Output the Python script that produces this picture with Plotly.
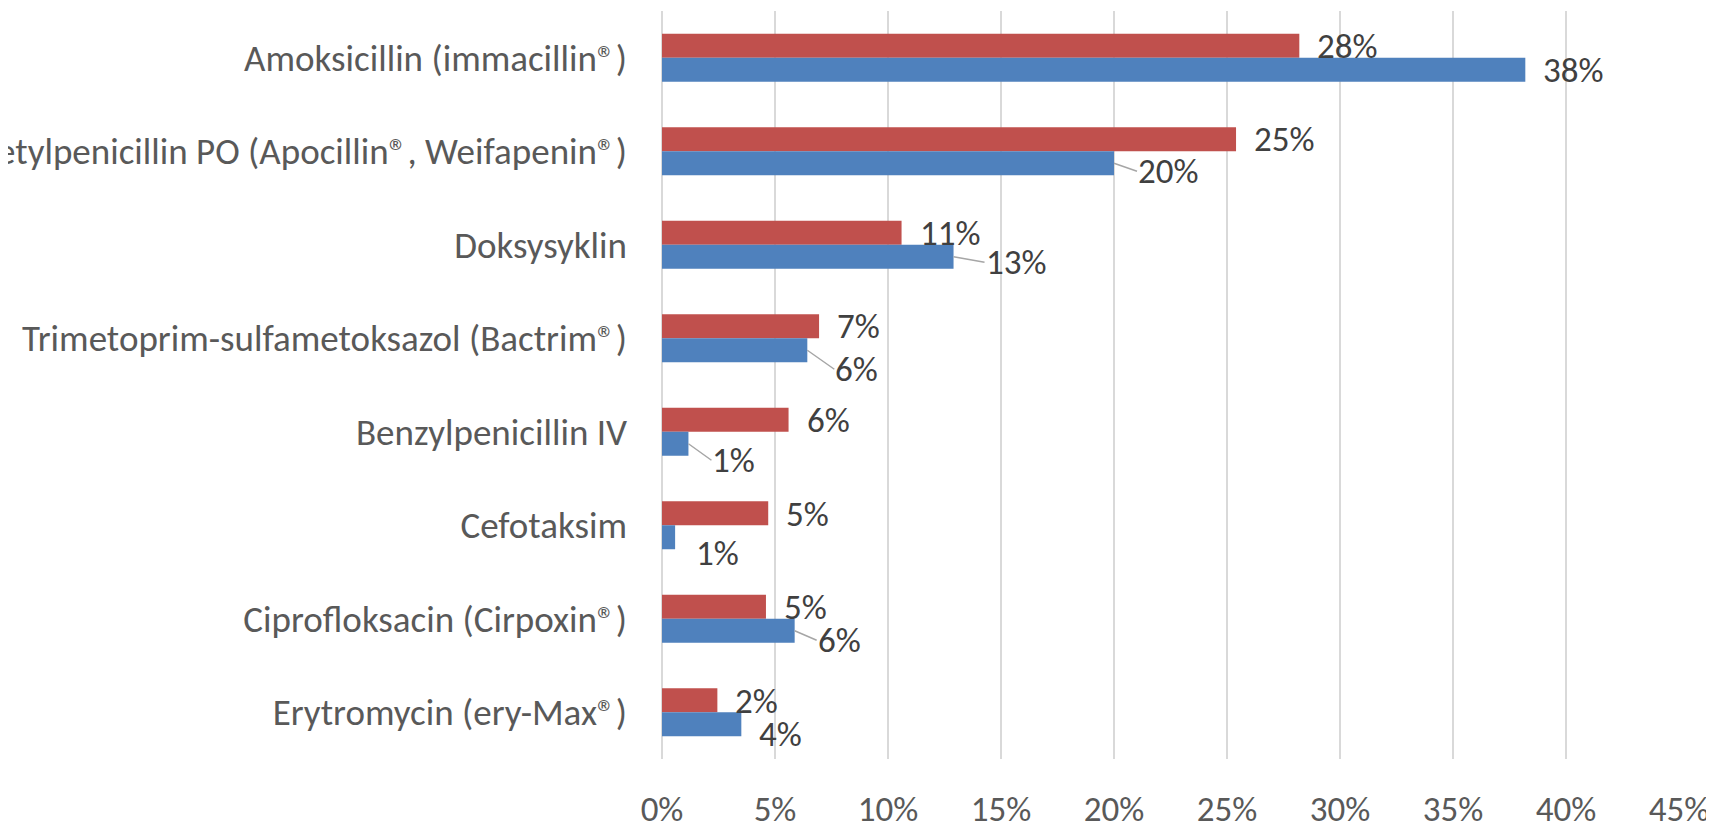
import plotly.graph_objects as go

categories = [
    "Amoksicillin (immacillin®)",
    "Fenoksymetylpenicillin PO (Apocillin®, Weifapenin®)",
    "Doksysyklin",
    "Trimetoprim-sulfametoksazol (Bactrim®)",
    "Benzylpenicillin IV",
    "Cefotaksim",
    "Ciprofloksacin (Cirpoxin®)",
    "Erytromycin (ery-Max®)",
]
red_values = [0.282, 0.254, 0.106, 0.0695, 0.056, 0.047, 0.046, 0.0245]
blue_values = [0.382, 0.200, 0.129, 0.0643, 0.0117, 0.0058, 0.0587, 0.0351]
x_ticks = [0, 0.05, 0.10, 0.15, 0.20, 0.25, 0.30, 0.35, 0.40, 0.45]
x_tick_labels = ["0%", "5%", "10%", "15%", "20%", "25%", "30%", "35%", "40%", "45%"]

# label placement (pixel offsets of each data label from its bar end) and leader lines
red_label_dx = [17, 17, 17, 17, 17, 17, 17, 17]
red_label_dy = [0, 0, 0, 0, 0.5, 1, 0.5, 0.5]
blue_label_dx = [17, 23, 31, 27, 23, 20, 22, 17]
blue_label_dy = [0, 8, 5.5, 19, 16.5, 15.5, 9.5, 9.5]
blue_leader = [False, True, True, True, True, False, True, False]

RED = "#C0504D"
BLUE = "#4F81BD"
FONT = "Carlito, Lato, sans-serif"
LABEL_COLOR = "#404040"
TICK_COLOR = "#595959"
GRID = "#D9D9D9"
FS = 35

fig = go.Figure()
fig.add_trace(go.Bar(y=categories, x=red_values, orientation="h", name="Serie 2",
                     marker=dict(color=RED, line=dict(width=0))))
fig.add_trace(go.Bar(y=categories, x=blue_values, orientation="h", name="Serie 1",
                     marker=dict(color=BLUE, line=dict(width=0))))

annotations = []
for i, cat in enumerate(categories):
    annotations.append(dict(
        x=red_values[i], y=cat, xref="x", yref="y",
        text=f"{round(red_values[i] * 100):.0f}%",
        showarrow=True, arrowhead=0, arrowwidth=1.5, arrowcolor="rgba(0,0,0,0)",
        ax=red_label_dx[i], ay=red_label_dy[i], axref="pixel", ayref="pixel",
        xanchor="left", yanchor="middle", yshift=12, borderpad=0,
        font=dict(family=FONT, size=FS, color=LABEL_COLOR),
    ))
    annotations.append(dict(
        x=blue_values[i], y=cat, xref="x", yref="y",
        text=f"{round(blue_values[i] * 100):.0f}%",
        showarrow=True, arrowhead=0, arrowwidth=1.5,
        arrowcolor="#A6A6A6" if blue_leader[i] else "rgba(0,0,0,0)",
        ax=blue_label_dx[i], ay=blue_label_dy[i], axref="pixel", ayref="pixel",
        xanchor="left", yanchor="middle", yshift=-12, borderpad=0, standoff=0,
        font=dict(family=FONT, size=FS, color=LABEL_COLOR),
    ))

# the page body adds an 8 px offset, so the figure is 8 px smaller each way
fig.update_layout(
    width=1706, height=815,
    margin=dict(l=654, r=35, t=3, b=64, autoexpand=False),
    paper_bgcolor="white", plot_bgcolor="white",
    barmode="group", bargap=0.4866, bargroupgap=0,
    showlegend=False,
    font=dict(family=FONT, size=FS, color=TICK_COLOR),
    annotations=annotations,
)
fig.update_xaxes(
    range=[0, 0.45], tickvals=x_ticks, ticktext=x_tick_labels,
    showgrid=True, gridcolor=GRID, gridwidth=2,
    zeroline=True, zerolinecolor=GRID, zerolinewidth=2,
    showline=False, ticks="", ticklabelstandoff=26, automargin=False,
    tickfont=dict(family=FONT, size=FS, color=TICK_COLOR),
)
fig.update_yaxes(
    categoryorder="array", categoryarray=categories,
    range=[7.5, -0.5], showgrid=False, zeroline=False, showline=False,
    ticks="", ticklabelstandoff=34, automargin=False,
    tickfont=dict(family=FONT, size=37, color=TICK_COLOR),
)

fig.write_html("out.html")
